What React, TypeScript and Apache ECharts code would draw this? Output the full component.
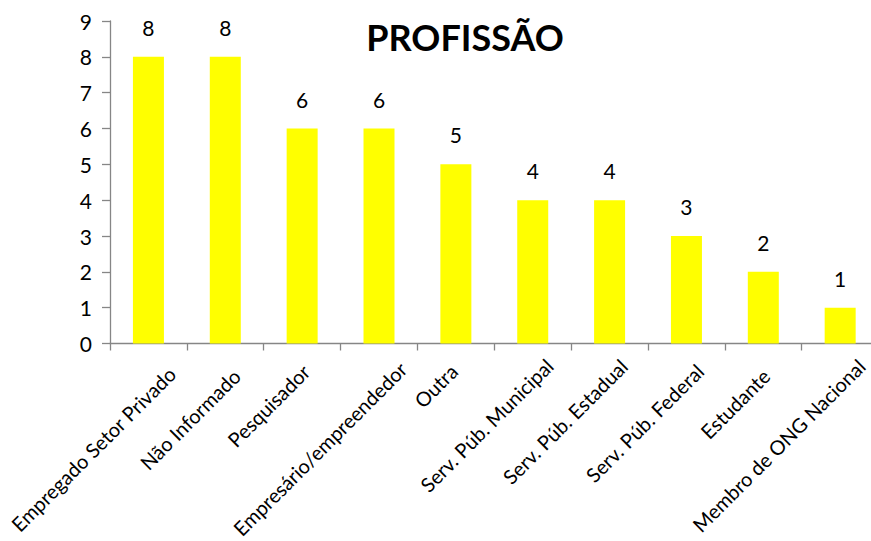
import React, { useEffect, useRef } from "react";
import * as echarts from "echarts";

const categories = [
  "Empregado Setor Privado",
  "Não Informado",
  "Pesquisador",
  "Empresário/empreendedor",
  "Outra",
  "Serv. Púb. Municipal",
  "Serv. Púb. Estadual",
  "Serv. Púb. Federal",
  "Estudante",
  "Membro de ONG Nacional",
];
const values = [8, 8, 6, 6, 5, 4, 4, 3, 2, 1];
const titleText = "PROFISSÃO";

// layout tweaks for the rotated category labels (padding top / right, px)
const labelPadTop = [76, 62, 45, 70, 36, 55, 52, 58, 50, 62];
const labelPadRight = [5, 15, 17, 1, 21, 4, 6, 10, 21, 1];

const FONT = "Lato, 'Open Sans', sans-serif";

export default function App() {
  const ref = useRef<HTMLDivElement>(null);
  useEffect(() => {
    if (!ref.current) return;
    const chart = echarts.init(ref.current, undefined, { renderer: "svg" });
    const rich: Record<string, any> = {};
    categories.forEach((_, i) => {
      rich["p" + i] = {
        fontFamily: FONT,
        fontSize: 20,
        color: "#000",
        padding: [labelPadTop[i], labelPadRight[i], 0, 0],
      };
    });
    chart.setOption({
      animation: false,
      backgroundColor: "#ffffff",
      title: {
        text: titleText,
        left: 460,
        top: 14,
        textAlign: "center",
        textStyle: { fontFamily: FONT, fontSize: 36, fontWeight: "bold", color: "#000" },
      },
      grid: { left: 110, top: 21, height: 322.5, width: 768.6, outerBoundsMode: "none" },
      xAxis: {
        type: "category",
        data: categories,
        axisLine: { show: true, lineStyle: { color: "#868686", width: 1.3 } },
        axisTick: { show: true, length: 7, alignWithLabel: false, lineStyle: { color: "#868686", width: 1.3 } },
        axisLabel: {
          rotate: 45,
          interval: 0,
          margin: -3.5,
          fontFamily: FONT,
          fontSize: 20,
          color: "#000",
          formatter: (value: string, index: number) => `{p${index}|${value}}`,
          rich,
        },
      },
      yAxis: {
        type: "value",
        min: 0,
        max: 9,
        interval: 1,
        axisLine: { show: true, lineStyle: { color: "#868686", width: 1.3 } },
        axisTick: { show: true, length: 8, lineStyle: { color: "#868686", width: 1.3 } },
        splitLine: { show: false },
        axisLabel: { margin: 18, fontFamily: FONT, fontSize: 21, color: "#000" },
      },
      series: [
        {
          type: "bar",
          data: values,
          barWidth: 31,
          itemStyle: { color: "#FFFF00" },
          label: {
            show: true,
            position: "top",
            distance: 19,
            fontFamily: FONT,
            fontSize: 21,
            color: "#000",
          },
        },
      ],
    });
    return () => chart.dispose();
  }, []);
  return (
    <div
      ref={ref}
      style={{ position: "fixed", left: 0, top: 0, width: 871, height: 541 }}
    />
  );
}
